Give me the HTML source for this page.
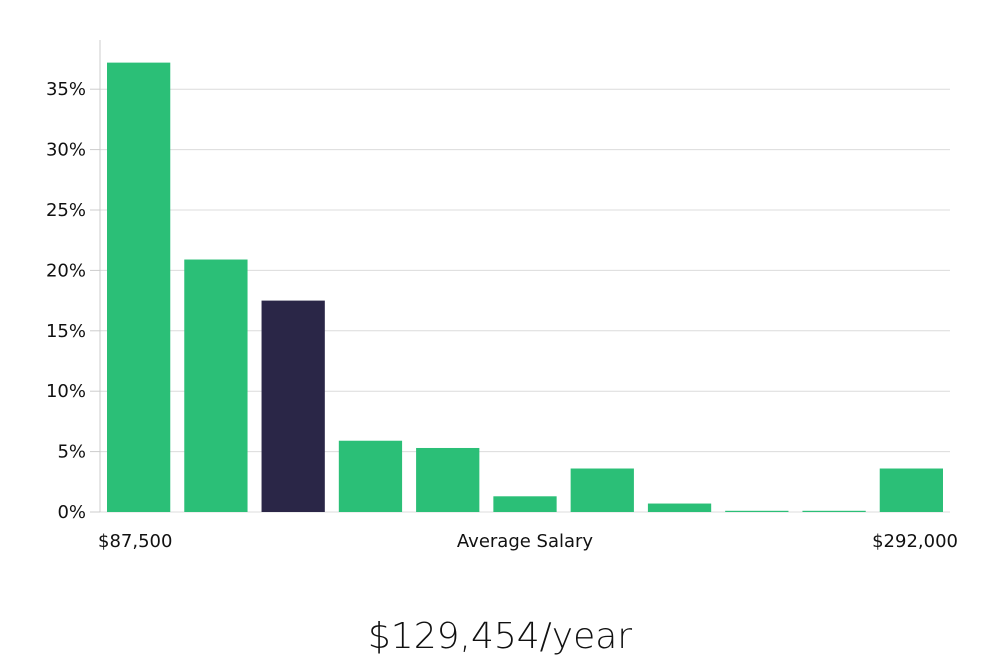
<!DOCTYPE html>
<html><head><meta charset="utf-8"><style>
html,body{margin:0;padding:0;background:#fff;}
svg text{font-family:"DejaVu Sans","Liberation Sans",sans-serif;}
</style></head><body>
<svg id="chart" width="1000" height="660" viewBox="0 0 1000 660">
<g id="grid"></g>
<g id="yaxis"></g>
<g id="bars"></g>
<text x="98" y="547" font-size="18" fill="#111">$87,500</text>
<text x="525" y="547" font-size="18" fill="#111" text-anchor="middle">Average Salary</text>
<text x="958" y="547" font-size="18" fill="#111" text-anchor="end">$292,000</text>
<text x="500" y="648" font-size="36" fill="#111" text-anchor="middle" style="font-family:'DejaVu Sans','Liberation Sans',sans-serif;font-weight:300">$129,454/year</text>
</svg>
<script>
const values=[37.2,20.9,17.5,5.9,5.3,1.3,3.6,0.7,0.1,0.1,3.6];
const highlight=[false,false,true,false,false,false,false,false,false,false,false];
const yTicks=[0,5,10,15,20,25,30,35];
const yTickLabels=["0%","5%","10%","15%","20%","25%","30%","35%"];
const ns="http://www.w3.org/2000/svg";
const x0=100,x1=950,y0=512,pxPer=12.08;
const y=v=>y0-v*pxPer;
const band=(x1-x0)/values.length;
const grid=document.getElementById('grid'),ya=document.getElementById('yaxis'),bars=document.getElementById('bars');
function mk(t,a,p){const e=document.createElementNS(ns,t);for(const k in a)e.setAttribute(k,a[k]);p.appendChild(e);return e;}
yTicks.forEach((t,i)=>{
 const g=mk('line',{x1:x0,x2:x1,y1:y(t),y2:y(t),stroke:'#dcdcdc','stroke-width':1},grid);
 
 
 const tk=mk('line',{x1:x0-10,x2:x0,y1:y(t),y2:y(t),stroke:'#ccc','stroke-width':1},ya);
 
 
 const tx=mk('text',{x:x0-14,y:y(t)+6,'font-size':18,fill:'#111','text-anchor':'end'},ya);
 tx.textContent=yTickLabels[i];
 
 
});
const ax=mk('line',{x1:x0,x2:x0,y1:40,y2:y0,stroke:'#ccc','stroke-width':1},ya);


values.forEach((v,i)=>{
 const bx=x0+i*band+7;
 const r=mk('rect',{x:bx,y:y(v),width:band-14,height:Math.max(1,v*pxPer),fill:highlight[i]?'#2a2647':'#2bbf77'},bars);
 
 
});
</script>
</body></html>
